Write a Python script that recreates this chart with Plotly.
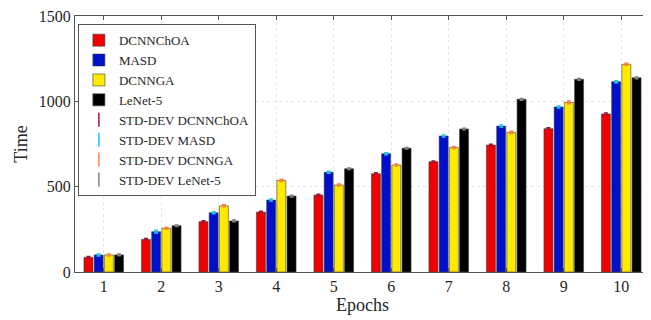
import plotly.graph_objects as go

epochs = ["1", "2", "3", "4", "5", "6", "7", "8", "9", "10"]
dcnnchoa = [86, 191, 295, 351, 451, 576, 646, 744, 840, 926]
masd = [100, 236, 347, 422, 584, 693, 797, 855, 967, 1115]
dcnnga = [100, 256, 388, 537, 510, 627, 730, 818, 994, 1217]
lenet5 = [100, 271, 299, 445, 605, 725, 838, 1012, 1129, 1138]
std_dcnnchoa = [5, 5, 5, 5, 5, 5, 5, 5, 5, 5]
std_masd = [6, 8, 6, 6, 6, 6, 6, 6, 6, 6]
std_dcnnga = [6, 6, 6, 6, 6, 6, 6, 6, 8, 6]
std_lenet5 = [5, 5, 5, 5, 5, 5, 5, 5, 5, 5]

names = ["DCNNChOA", "MASD", "DCNNGA", "LeNet-5"]
values = [dcnnchoa, masd, dcnnga, lenet5]
stds = [std_dcnnchoa, std_masd, std_dcnnga, std_lenet5]
bar_colors = ["#F00000", "#0010C8", "#FFEA00", "#000000"]
err_colors = ["#A2142F", "#1CC8F0", "#FF7F3F", "#808080"]

FONT = "Liberation Serif, Times New Roman, serif"

fig = go.Figure()
for n, v, s, bc, ec in zip(names, values, stds, bar_colors, err_colors):
    fig.add_trace(go.Bar(
        x=epochs, y=v, name=n,
        marker=dict(color=bc, line=dict(color="#404040", width=0.6)),
        error_y=dict(type="data", array=s, visible=True, color=ec,
                     thickness=1.5, width=2),
    ))
for n, ec in zip(names, err_colors):
    fig.add_trace(go.Scatter(
        x=[None], y=[None], mode="markers", name="STD-DEV " + n,
        marker=dict(symbol="line-ns-open", color=ec, size=10,
                    line=dict(color=ec, width=1.5)),
    ))

# page body has an 8px margin, so the figure is sized to fit the window
fig.update_layout(
    width=643, height=312,
    margin=dict(l=67, r=1, t=8, b=48),
    paper_bgcolor="white", plot_bgcolor="white",
    barmode="group", bargap=0.29, bargroupgap=0.12,
    font=dict(family=FONT, size=16, color="#262626"),
    showlegend=True,
    legend=dict(x=0.005, y=0.968, xanchor="left", yanchor="top",
                bgcolor="white", bordercolor="#555555", borderwidth=1,
                font=dict(family=FONT, size=13, color="#262626"),
                tracegroupgap=0, itemwidth=30),
)
fig.update_xaxes(
    title=dict(text="Epochs", font=dict(size=18), standoff=0),
    range=[-0.5, 9.5], showline=True, linecolor="#555555", linewidth=1,
    mirror="allticks", ticks="inside", ticklen=4, tickcolor="#555555",
    showgrid=True, gridcolor="#E6E6E6", griddash="dot", gridwidth=1,
    tickfont=dict(size=16), zeroline=False, ticklabeloverflow="allow",
)
fig.update_yaxes(
    title=dict(text="Time", font=dict(size=18), standoff=6),
    range=[0, 1500], tickvals=[0, 500, 1000, 1500],
    showline=True, linecolor="#555555", linewidth=1,
    mirror="allticks", ticks="inside", ticklen=4, tickcolor="#555555",
    showgrid=True, gridcolor="#E6E6E6", griddash="dot", gridwidth=1,
    tickfont=dict(size=16), zeroline=False, ticklabeloverflow="allow",
)

fig.write_html("out.html")
